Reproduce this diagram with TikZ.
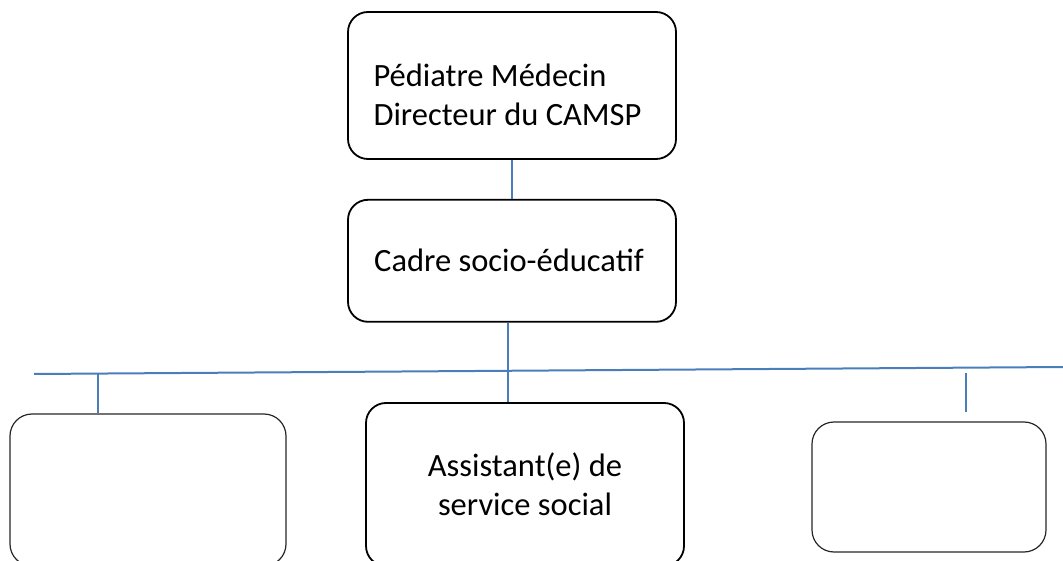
\documentclass[tikz,border=0pt]{standalone}
\usepackage{fontspec}
\setmainfont{Carlito}
\usetikzlibrary{calc, positioning}

\definecolor{linkblue}{HTML}{4A7EBB}

\tikzset{
  post/.style={draw=black, line width=1.8pt, rounded corners=20pt, inner sep=0pt},
  emptypost/.style={draw=black!85, line width=1.2pt, rounded corners=22pt, inner sep=0pt},
  link/.style={draw=linkblue, line width=2pt}
}

\begin{document}
\begin{tikzpicture}[x=1pt, y=-1pt, font=\fontsize{32.5}{39}\selectfont]
\useasboundingbox (0,0) rectangle (1063,561);
\clip (0,0) rectangle (1063,561);

\node[post, minimum width=328pt, minimum height=147pt, align=left] (directeur) at (512,85.5)
{\rule{0pt}{42pt}Pédiatre Médecin\\Directeur du CAMSP\hspace*{9pt}};

\node[post, minimum width=328pt, minimum height=122pt, below=39pt of directeur] (cadre)
{Cadre socio-éducatif\hspace*{6pt}};

\node[post, minimum width=318pt, minimum height=163pt, align=center] (assistant) at (525,484.5)
{Assistant(e) de\\service social};

\node[emptypost, minimum width=276pt, minimum height=152pt] (gauche) at (148,490) {};
\node[emptypost, minimum width=234pt, minimum height=130pt] (droite) at (929,487) {};

% the long rail, it goes a bit uphill to the right
\coordinate (railL) at (34,374);
\coordinate (railR) at (1063,367);
\draw[link] (railL) -- (railR);

\draw[link] (directeur.south) -- (cadre.north);
\coordinate (drop) at ($(cadre.south)+(-4,0)$);
\draw[link] (drop) -- (drop |- assistant.north);
\draw[link] ($(gauche.north)+(-50,0)$) -- ++(0,-40);
\draw[link] ($(droite.north)+(37,-9)$) -- ++(0,-39);% not touching the rail

\end{tikzpicture}
\end{document}
